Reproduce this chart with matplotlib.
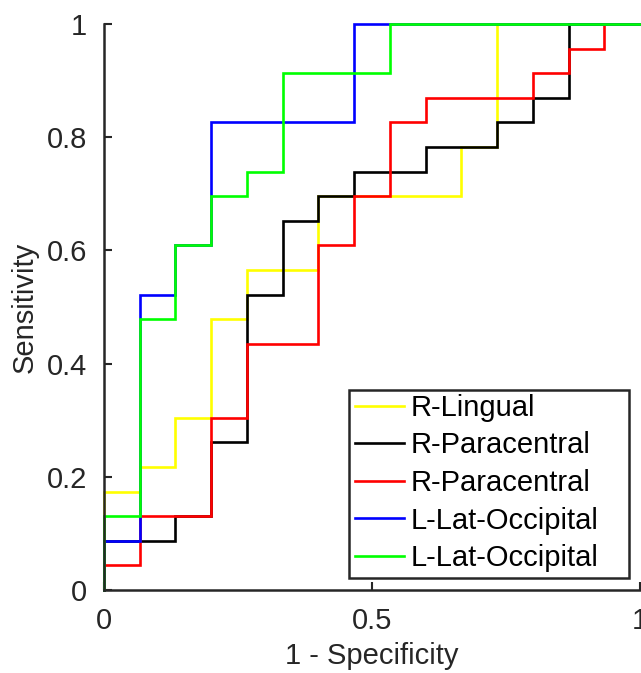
import matplotlib
matplotlib.use('Agg')

import matplotlib.pyplot as plt
import matplotlib.patches as mpatches
import numpy as np

# ROC curves: 15 negatives, 23 positives.
# For each false-positive count k = 0..15, the true-positive count reached at that FPR
N_NEG = 15
N_POS = 23
fp_counts = np.arange(N_NEG + 1)

tp_r_lingual = [4, 5, 7, 11, 13, 13, 16, 16, 16, 16, 18, 23, 23, 23, 23, 23]
tp_r_paracentral_a = [2, 2, 3, 6, 12, 15, 16, 17, 17, 18, 18, 19, 20, 23, 23, 23]
tp_r_paracentral_b = [1, 3, 3, 7, 10, 10, 14, 16, 19, 20, 20, 20, 21, 22, 23, 23]
tp_l_latocc_a = [2, 12, 14, 19, 19, 19, 19, 23, 23, 23, 23, 23, 23, 23, 23, 23]
tp_l_latocc_b = [3, 11, 14, 16, 17, 21, 21, 21, 23, 23, 23, 23, 23, 23, 23, 23]

labels = ['R-Lingual', 'R-Paracentral', 'R-Paracentral', 'L-Lat-Occipital', 'L-Lat-Occipital']
colors = ['#ffff00', '#000000', '#ff0000', '#0000ff', '#00ff00']
series = [tp_r_lingual, tp_r_paracentral_a, tp_r_paracentral_b, tp_l_latocc_a, tp_l_latocc_b]

AX_CLR = '#262626'
FS = 21

plt.rcParams.update({
    'font.family': ['Liberation Sans', 'DejaVu Sans'],
    'font.size': FS,
})

fig = plt.figure(figsize=(6.41, 6.73), dpi=100)
ax = fig.add_axes([104/641, 1-590/673, 536/641, 566/673])

for tp, lbl, clr in zip(series, labels, colors):
    fpr = np.concatenate([[0], fp_counts / N_NEG])
    tpr = np.concatenate([[0], np.array(tp) / N_POS])
    ax.plot(fpr, tpr, drawstyle='steps-post', color=clr, linewidth=1.9,
            label=lbl, clip_on=False, solid_joinstyle='miter')

ax.set_xlim(0, 1)
ax.set_ylim(0, 1)
ax.set_xticks([0, 0.5, 1])
ax.set_xticklabels(['0', '0.5', '1'])
ax.set_yticks([0, 0.2, 0.4, 0.6, 0.8, 1])
ax.set_yticklabels(['0', '0.2', '0.4', '0.6', '0.8', '1'])
ax.tick_params(direction='in', length=6, width=1.5, colors=AX_CLR, labelsize=FS, pad=12)
for s in ['top', 'right']:
    ax.spines[s].set_visible(False)
for s in ['left', 'bottom']:
    ax.spines[s].set_color(AX_CLR)
    ax.spines[s].set_linewidth(1.8)

ax.set_xlabel('1 - Specificity', fontsize=FS, color=AX_CLR, labelpad=5)
ax.set_ylabel('Sensitivity', fontsize=FS, color=AX_CLR, labelpad=6)

# legend box drawn separately so it can be wider than the text (MATLAB style)
box = mpatches.Rectangle((0.457, 0.0212), 0.522, 0.332, transform=ax.transAxes,
                         facecolor='white', edgecolor=AX_CLR, linewidth=1.8, zorder=4)
ax.add_patch(box)
leg = ax.legend(loc='center left', bbox_to_anchor=(0.468, 0.189), borderaxespad=0,
                fontsize=FS, frameon=False, handlelength=1.7, handletextpad=0.2,
                labelspacing=0.33, borderpad=0)
leg.set_zorder(5)

fig.savefig('out.png', dpi=100, facecolor='white')
